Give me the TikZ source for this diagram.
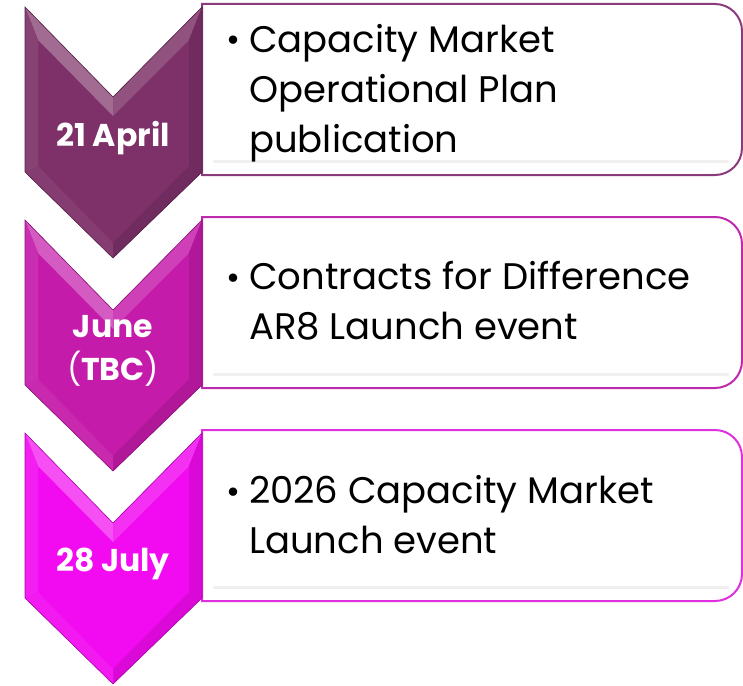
\documentclass[tikz,border=0pt]{standalone}
\usepackage{fontspec}
\setmainfont{Poppins}
\definecolor{plumA}{HTML}{7D3168}
\definecolor{plumB}{HTML}{C41BAA}
\definecolor{plumC}{HTML}{F20AF0}
\definecolor{rimA}{HTML}{8B3B7B}
\definecolor{rimB}{HTML}{BE2AAE}
\definecolor{rimC}{HTML}{DE30DE}
\begin{document}
\begin{tikzpicture}[x=1pt,y=-1pt,
  datetext/.style={text=white,font=\bfseries\fontsize{31.5}{43}\selectfont,align=center,inner sep=0pt},
  itemtext/.style={font=\fontsize{37}{50}\selectfont,align=left,anchor=base west,inner sep=0pt},
  bulletdot/.style={font=\fontsize{34}{50}\selectfont,anchor=base,inner sep=0pt}]
  \useasboundingbox (0,0) rectangle (743,685);
  \foreach \i/\y/\col/\rim/\top/\last/\date/\txt in {%
    1/7/plumA/rimA/45/145/{21 April}/{Capacity Market\\Operational Plan\\publication},
    2/220/plumB/rimB/69/119/{June\\{\mdseries(}TBC{\mdseries)}}/{Contracts for Difference\\AR8 Launch event},
    3/433/plumC/rimC/70/120/{28 July}/{2026 Capacity Market\\Launch event}}{
  \begin{scope}[shift={(0,\y)}]
    % outer chevron corners
    \coordinate (A\i) at (25,0);   \coordinate (N\i) at (113,90);
    \coordinate (B\i) at (202,0);  \coordinate (C\i) at (202,165);
    \coordinate (T\i) at (113,251);\coordinate (D\i) at (25,165);
    % inner bevel corners
    \coordinate (a\i) at (38,33);  \coordinate (n\i) at (113,109);
    \coordinate (b\i) at (189,33); \coordinate (c\i) at (189,159);
    \coordinate (t\i) at (113,236);\coordinate (d\i) at (38,159);
    % text box
    \draw[draw=\rim, line width=2pt, fill=white]
      (202,168) [sharp corners] -- (202,-3) [rounded corners=27pt] -- (742,-3) -- (742,168) [sharp corners] -- cycle;
    \draw[gray!12, line width=3pt, line cap=round] (214,154) -- (728,154);
    % chevron
    \fill[\col] (A\i) -- (N\i) -- (B\i) -- (C\i) -- (T\i) -- (D\i) -- cycle;
    \fill[\col!72!white] (A\i) -- (N\i) -- (n\i) -- (a\i) -- cycle;
    \fill[\col!84!white] (N\i) -- (B\i) -- (b\i) -- (n\i) -- cycle;
    \fill[\col!90!black] (B\i) -- (C\i) -- (c\i) -- (b\i) -- cycle;
    \fill[\col!90!black] (C\i) -- (T\i) -- (t\i) -- (c\i) -- cycle;
    \fill[\col!94!white] (T\i) -- (D\i) -- (d\i) -- (t\i) -- cycle;
    \fill[\col!92!white] (D\i) -- (A\i) -- (a\i) -- (d\i) -- cycle;
    \draw[\col!70!black, line width=0.6pt] (A\i) -- (N\i) -- (B\i) -- (C\i) -- (T\i) -- (D\i) -- cycle;
    \node[datetext] (date\i) at (113,131) {\date};
    \node[bulletdot] (dot\i) at (233,\top) {\textbullet};
    \node[itemtext] (item\i) at (249,\last) {\txt};
  \end{scope}}
\end{tikzpicture}
\end{document}
